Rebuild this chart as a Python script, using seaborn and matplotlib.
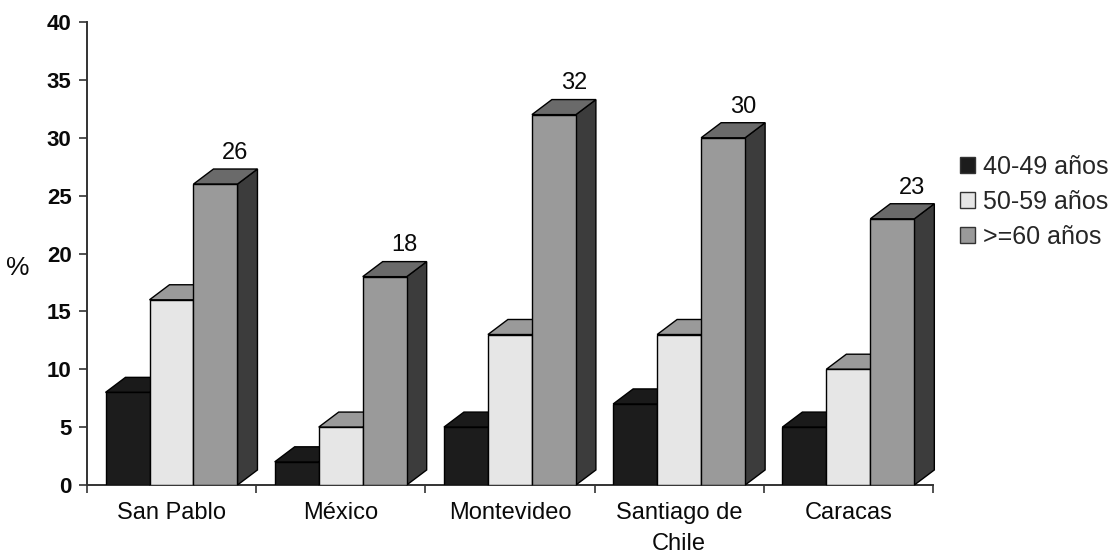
import matplotlib
matplotlib.use("Agg")
import matplotlib.pyplot as plt
from matplotlib.patches import Polygon, Patch
import seaborn as sns
import pandas as pd

cities = ["San Pablo", "México", "Montevideo", "Santiago de\nChile", "Caracas"]
groups = ["40-49 años", "50-59 años", ">=60 años"]
vals_40_49 = [8, 2, 5, 7, 5]
vals_50_59 = [16, 5, 13, 13, 10]
vals_60 = [26, 18, 32, 30, 23]
value_labels = ["26", "18", "32", "30", "23"]

front_colors = ["#1c1c1c", "#e6e6e6", "#9a9a9a"]
top_colors = ["#1a1a1a", "#9a9a9a", "#6a6a6a"]
side_colors = ["#151515", "#8a8a8a", "#3c3c3c"]

rows = []
for g, series in zip(groups, [vals_40_49, vals_50_59, vals_60]):
    for c, v in zip(cities, series):
        rows.append({"city": c, "group": g, "value": v})
df = pd.DataFrame(rows)

sns.set_theme(style="white")
plt.rcParams["font.family"] = ["Liberation Sans", "DejaVu Sans"]

fig = plt.figure(figsize=(11.14, 5.56), dpi=100)
ax = fig.add_axes([0.078, 0.1277, 0.7595, 0.8327])

sns.barplot(data=df, x="city", y="value", hue="group", order=cities,
            hue_order=groups, palette=front_colors, edgecolor="black",
            linewidth=1.0, width=0.78, legend=False, ax=ax)

# depth of the pseudo-3D extrusion, in data units
dx, dy = 0.118, 1.3

for k, container in enumerate(ax.containers):
    for bar in container:
        x0 = bar.get_x()
        x1 = x0 + bar.get_width()
        h = bar.get_height()
        bar.set_zorder(3 + 2 * k + 1)
        top = Polygon([(x0, h), (x0 + dx, h + dy), (x1 + dx, h + dy), (x1, h)],
                      closed=True, facecolor=top_colors[k], edgecolor="black",
                      linewidth=1.0, zorder=3 + 2 * k, clip_on=False)
        side = Polygon([(x1, 0), (x1 + dx, dy), (x1 + dx, h + dy), (x1, h)],
                       closed=True, facecolor=side_colors[k], edgecolor="black",
                       linewidth=1.0, zorder=3 + 2 * k, clip_on=False)
        ax.add_patch(side)
        ax.add_patch(top)

# value labels over the tallest series
for bar, lab in zip(ax.containers[2], value_labels):
    xc = bar.get_x() + bar.get_width() / 2 + dx
    ax.text(xc, bar.get_height() + dy + 0.45, lab, ha="center", va="bottom",
            fontsize=17, color="#0a0a0a", zorder=20)

ax.set_xlim(-0.5, 4.5)
ax.set_ylim(0, 40)
ax.set_yticks(range(0, 41, 5))
ax.set_xlabel("")
ax.set_ylabel("%", rotation=0, fontsize=19, va="center", color="#0a0a0a")
ax.yaxis.set_label_coords(-0.082, 0.468)

ax.set_xticks(range(len(cities)))
ax.set_xticklabels(cities, fontsize=17, linespacing=1.55, color="#0a0a0a")
ax.set_xticks([i - 0.5 for i in range(len(cities) + 1)], minor=True)
ax.tick_params(axis="x", which="major", length=0, pad=12)
ax.tick_params(axis="x", which="minor", length=6, width=1.2, direction="out",
               color="#333333", bottom=True)
ax.tick_params(axis="y", which="major", length=6, width=1.2, direction="out",
               color="#333333", left=True, pad=5)
for lbl in ax.get_yticklabels():
    lbl.set_fontsize(16)
    lbl.set_fontweight("bold")
    lbl.set_color("#0a0a0a")

sns.despine(ax=ax, top=True, right=True)
for s in ("left", "bottom"):
    ax.spines[s].set_color("#333333")
    ax.spines[s].set_linewidth(1.4)

handles = [Patch(facecolor=c, edgecolor="#333333", linewidth=1.0) for c in front_colors]
fig.legend(handles, groups, loc="upper left", bbox_to_anchor=(0.853, 0.74),
           frameon=False, fontsize=18, handlelength=0.6, handleheight=0.6,
           handletextpad=0.3, labelspacing=0.45, borderaxespad=0)

fig.savefig("out.png", dpi=100)
